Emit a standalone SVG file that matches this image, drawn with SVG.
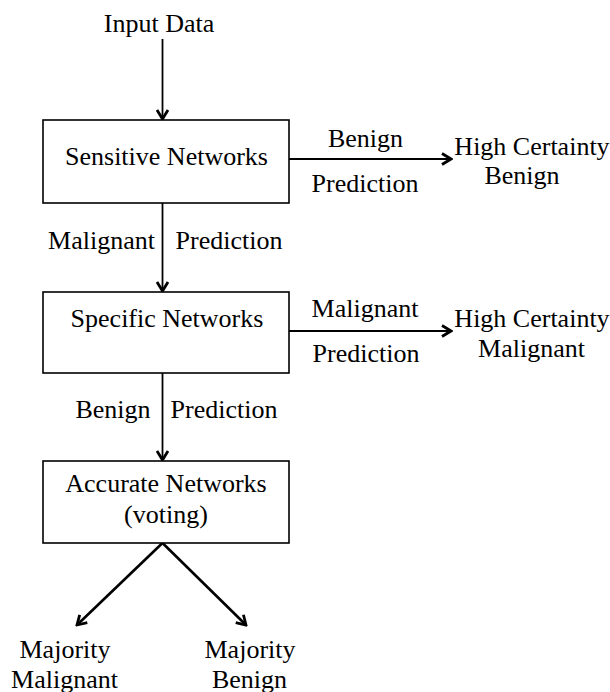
<svg xmlns="http://www.w3.org/2000/svg" width="610" height="692" viewBox="0 0 610 692">
<style>
  text { font-family: "Liberation Serif", "Times New Roman", serif; font-size: 26px; fill: #000; text-anchor: middle; }
  .box { fill: #fff; stroke: #000; stroke-width: 1.6; }
  .conn { stroke: #000; stroke-width: 1.8; fill: none; marker-end: url(#arr); }
  .diag { stroke-width: 2.6; }
</style>
<defs>
  <marker id="arr" viewBox="0 0 14 14" refX="12" refY="7" markerWidth="14" markerHeight="14" markerUnits="userSpaceOnUse" orient="auto">
    <path d="M3,1.5 L12,7 L3,12.5" fill="none" stroke="#000" stroke-width="2.8" stroke-linejoin="miter"/>
  </marker>
</defs>
<rect width="610" height="692" fill="#fff"/>
<g id="connectors">
  <line class="conn" x1="162.5" y1="39" x2="162.5" y2="119"/>
  <line class="conn" x1="289" y1="159" x2="451" y2="159"/>
  <line class="conn" x1="162.5" y1="203" x2="162.5" y2="291"/>
  <line class="conn" x1="289" y1="331" x2="451" y2="331"/>
  <line class="conn" x1="162.5" y1="373" x2="162.5" y2="460"/>
  <line class="conn diag" x1="162.5" y1="543" x2="77" y2="625"/>
  <line class="conn diag" x1="162.5" y1="543" x2="246" y2="625"/>
</g>
<g id="labels">
  <text x="365.5" y="147">Benign</text>
  <text x="365" y="192">Prediction</text>
  <text x="101.5" y="249">Malignant</text>
  <text x="229" y="249">Prediction</text>
  <text x="365" y="317">Malignant</text>
  <text x="366" y="362">Prediction</text>
  <text x="113" y="418">Benign</text>
  <text x="224" y="418">Prediction</text>
</g>
<g id="input"><text x="159" y="32">Input Data</text></g>
<g id="sensitive">
  <rect class="box" x="43" y="120" width="246" height="83"/>
  <text x="166.5" y="165">Sensitive Networks</text>
</g>
<g id="specific">
  <rect class="box" x="43" y="292" width="246" height="81"/>
  <text x="167" y="327">Specific Networks</text>
</g>
<g id="accurate">
  <rect class="box" x="43" y="461" width="246" height="82"/>
  <text x="166" y="492">Accurate Networks</text>
  <text x="166" y="523">(voting)</text>
</g>
<g id="hcb">
  <text x="532" y="155">High Certainty</text>
  <text x="522" y="184">Benign</text>
</g>
<g id="hcm">
  <text x="532" y="327">High Certainty</text>
  <text x="531.5" y="357">Malignant</text>
</g>
<g id="mm">
  <text x="65" y="658">Majority</text>
  <text x="64.5" y="688">Malignant</text>
</g>
<g id="mb">
  <text x="250" y="658">Majority</text>
  <text x="249.5" y="688">Benign</text>
</g>
</svg>
